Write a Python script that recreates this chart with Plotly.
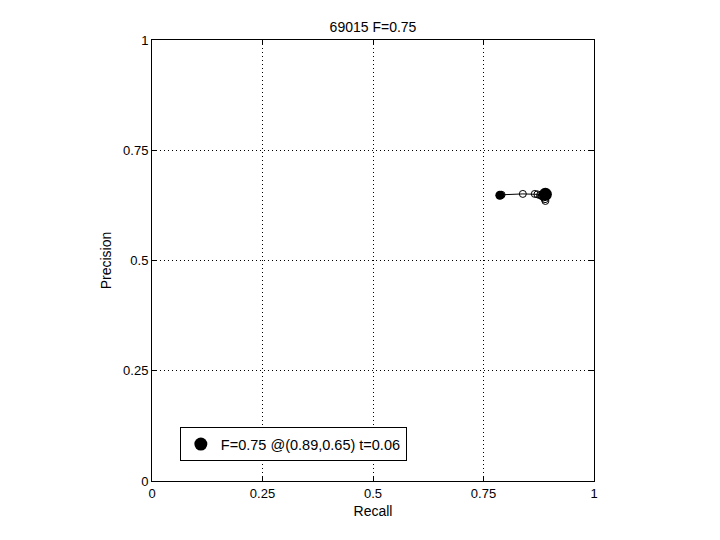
import plotly.graph_objects as go

recall = [0.787, 0.789, 0.791, 0.839, 0.866, 0.872, 0.878, 0.882, 0.886, 0.889, 0.89]
precision = [0.648, 0.648, 0.649, 0.651, 0.651, 0.650, 0.648, 0.646, 0.643, 0.639, 0.635]
best_r = [0.89]
best_p = [0.65]
best_label = "F=0.75 @(0.89,0.65) t=0.06"
title = "69015 F=0.75"
ticks = [0, 0.25, 0.5, 0.75, 1]
tick_text = ["0", "0.25", "0.5", "0.75", "1"]

fig = go.Figure()
fig.add_trace(go.Scatter(x=recall, y=precision, mode="lines+markers",
                         line=dict(color="black", width=1),
                         marker=dict(symbol="circle-open", size=7, color="black", line=dict(width=1)),
                         showlegend=False))
fig.add_trace(go.Scatter(x=[recall[0]], y=[precision[0]], mode="markers",
                         marker=dict(symbol="circle", size=9, color="black"), showlegend=False))
fig.add_trace(go.Scatter(x=best_r, y=best_p, mode="markers", name=best_label,
                         marker=dict(symbol="circle", size=13, color="black")))

axis = dict(range=[0, 1], tickvals=ticks, ticktext=tick_text, showgrid=True,
            gridcolor="black", griddash="1px,3px", gridwidth=1, showline=True,
            linecolor="black", linewidth=1, mirror="ticks", ticks="inside",
            ticklen=5, tickcolor="black", zeroline=False,
            tickfont=dict(size=13, color="black"))
fig.update_layout(
    width=720, height=540,
    margin=dict(l=144, r=134, t=32, b=67),
    paper_bgcolor="white", plot_bgcolor="white",
    font=dict(family="Liberation Sans, Arial, sans-serif", size=13, color="black"),
    title=dict(text=title, x=365 / 720, xanchor="center", y=1 - 19 / 540, yanchor="middle",
               font=dict(size=14)),
    xaxis=dict(**axis, title=dict(text="Recall", standoff=6, font=dict(size=14))),
    yaxis=dict(**axis, title=dict(text="Precision", standoff=8, font=dict(size=14))),
    legend=dict(x=0.063, y=0.122, xanchor="left", yanchor="top", bgcolor="white",
                bordercolor="black", borderwidth=1, font=dict(size=14.5),
                itemwidth=30),
)
fig.write_html("out.html")
